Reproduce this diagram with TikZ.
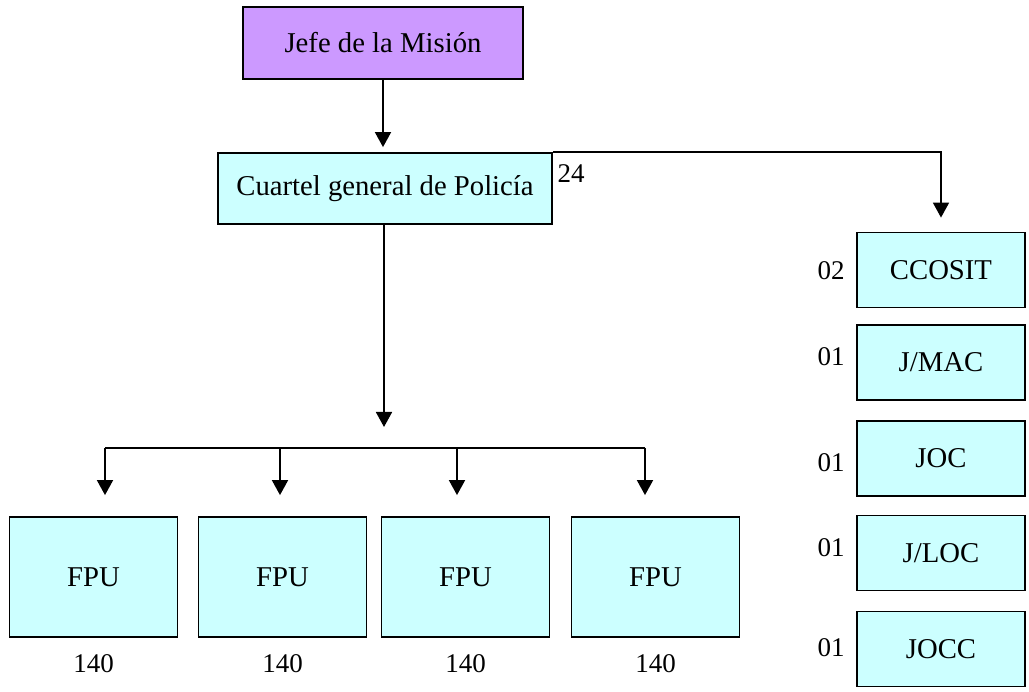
\documentclass[tikz,border=0pt]{standalone}
\usepackage{fontspec}
\setmainfont{Liberation Serif}
\usetikzlibrary{arrows.meta}
\definecolor{jefecolor}{HTML}{CC99FF}
\definecolor{unitcolor}{HTML}{CCFFFF}
\tikzset{
  unitbox/.style={draw, line width=1.8pt, fill=unitcolor, inner sep=0pt,
    minimum width=168pt, minimum height=75pt, font=\fontsize{28.7}{32}\selectfont},
  count/.style={inner sep=0pt, font=\fontsize{27}{30}\selectfont},
  link/.style={line width=1.8pt},
  arr/.style={link, -{Triangle[width=16pt,length=15pt]}},
}
\begin{document}
\begin{tikzpicture}[x=1pt,y=1pt]
\useasboundingbox (0,0) rectangle (1029,692);
\newcommand{\sideunit}[5]{
  \node[unitbox] (#1) at (941,#3) {#2};
  \node[count] (n#1) at (831,#3+#4) {#5};
}

% head of mission and police headquarters
\node[unitbox, fill=jefecolor, minimum width=280pt, minimum height=72pt] (jefe) at (383,649) {Jefe de la Misión};
\node[unitbox, minimum width=334pt, minimum height=71pt] (cuartel) at (385,503.5) {Cuartel general de Policía};
\node[count] (n24) at (571,518) {24};
\draw[arr, shorten >=5pt] (jefe.south) -- (jefe.south |- cuartel.north);

% specialised units on the right
\sideunit{ccosit}{CCOSIT}{422}{-1}{02}
\sideunit{jmac}{J/MAC}{329.5}{5.5}{01}
\sideunit{joc}{JOC}{233.5}{-4.5}{01}
\sideunit{jloc}{J/LOC}{139}{5}{01}
\sideunit{jocc}{JOCC}{43}{1}{01}
\draw[arr, shorten >=14pt] (cuartel.north east) -| (ccosit.north);

% formed police units
\coordinate (hub) at (384,265);
\draw[arr] (hub |- cuartel.south) -- (hub);
\foreach \i/\xc/\xa in {1/93.5/105, 2/282.5/280, 3/465.5/457, 4/655.5/645} {
  \node[unitbox, minimum height=120pt] (fpu\i) at (\xc,115) {FPU};
  \node[count] (n\i) at (\xc,28) {140};
  \coordinate (drop\i) at (\xa,244);
  \draw[arr, shorten >=21pt] (drop\i) -- (drop\i |- fpu\i.north);
}
\draw[link] (drop1) -- (drop4);
\end{tikzpicture}
\end{document}
